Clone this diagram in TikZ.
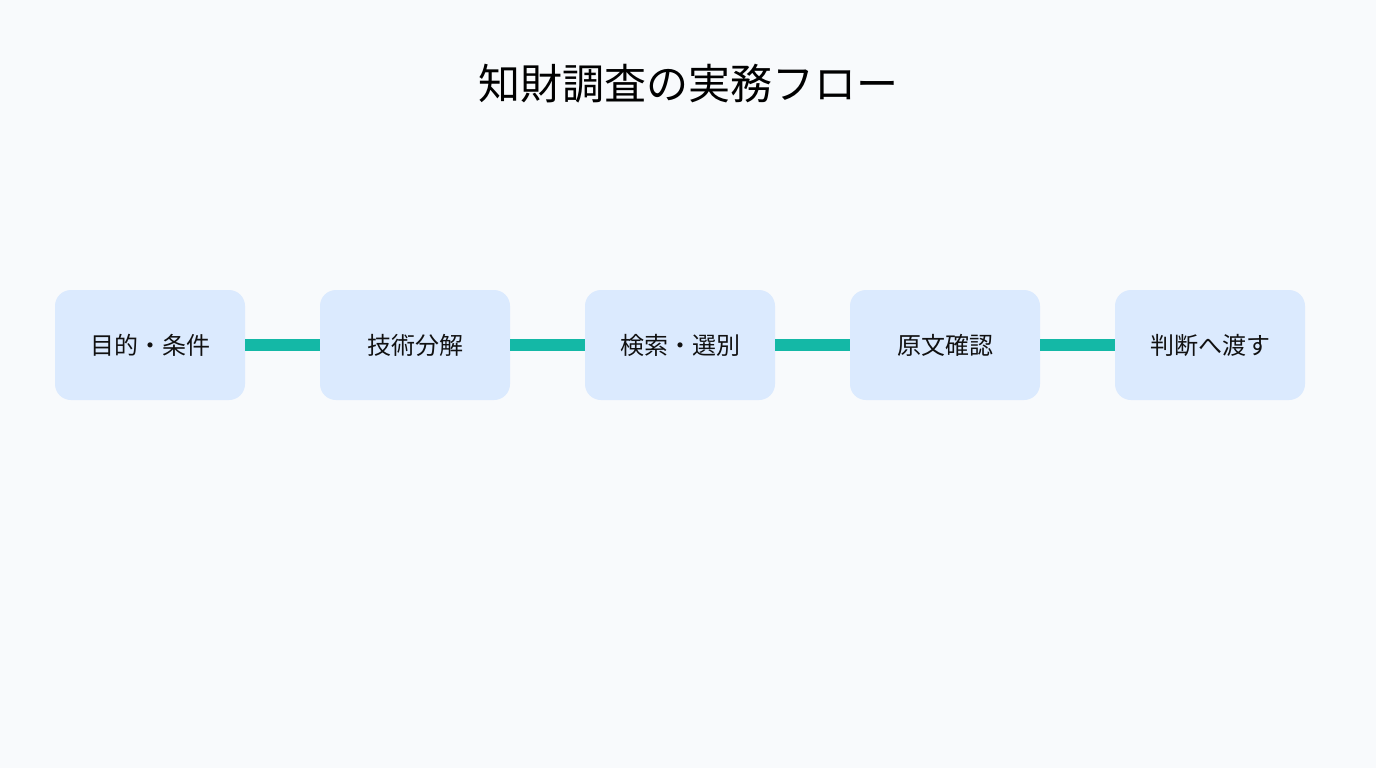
\documentclass[tikz,border=0pt]{standalone}
\usepackage{fontspec}
\setmainfont{Noto Sans CJK JP}
\definecolor{bgc}{HTML}{F8FAFC}
\definecolor{boxc}{HTML}{DBEAFE}
\definecolor{linec}{HTML}{14B8A6}
\definecolor{txtc}{HTML}{111111}
\tikzset{
  stepbox/.style={fill=boxc, draw=none, rounded corners=16pt, minimum width=190pt, minimum height=110pt, inner sep=0pt, text=txtc, font=\fontsize{24pt}{28pt}\selectfont},
  linkline/.style={draw=linec, line width=12pt},
}
\begin{document}
\begin{tikzpicture}[x=1pt,y=-1pt]
\fill[bgc] (0,0) rectangle (1376,768);
\useasboundingbox (0,0) rectangle (1376,768);
\node[text=black, font=\fontsize{42pt}{50pt}\selectfont] (title) at (688,84) {知財調査の実務フロー};
\node[stepbox] (b1) at (150,345) {目的・条件};
\node[stepbox] (b2) at (415,345) {技術分解};
\node[stepbox] (b3) at (680,345) {検索・選別};
\node[stepbox] (b4) at (945,345) {原文確認};
\node[stepbox] (b5) at (1210,345) {判断へ渡す};
\draw[linkline] (b1.east) -- (b2.west);
\draw[linkline] (b2.east) -- (b3.west);
\draw[linkline] (b3.east) -- (b4.west);
\draw[linkline] (b4.east) -- (b5.west);
\end{tikzpicture}
\end{document}
